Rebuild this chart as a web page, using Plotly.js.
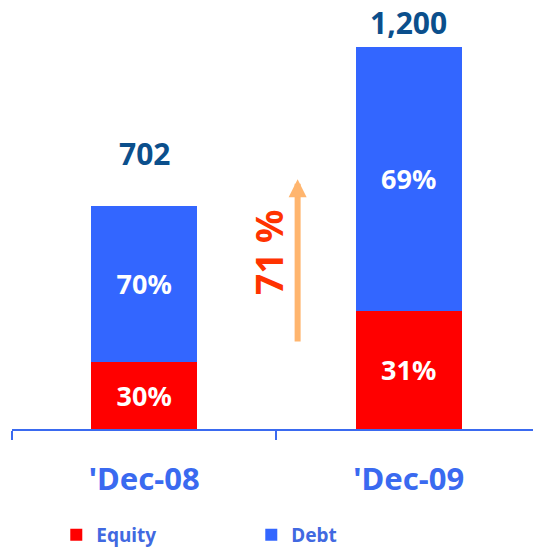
<!DOCTYPE html>
<html>
<head>
<meta charset="utf-8">
<script src="https://cdn.plot.ly/plotly-3.0.1.min.js"></script>
<style>html,body{margin:0;padding:0;background:#fff;}#chart{width:533px;height:548px;}</style>
</head>
<body>
<div id="chart"></div>
<script>
var categories = ["'Dec-08", "'Dec-09"];
var totals = [702, 1200];
var equityPct = [30, 31];
var debtPct = [70, 69];
var growthLabel = "71 %";

var equityVals = totals.map(function(t, i){ return t * equityPct[i] / 100; });
var debtVals = totals.map(function(t, i){ return t * debtPct[i] / 100; });

var FONT = "Noto Sans, Open Sans, DejaVu Sans, sans-serif";
var AXIS_BLUE = "#3a6af0";
var totalShift = [52, 25]; // px gap between bar top and total label centre

var traces = [
  {
    type: "bar", name: "Equity", x: categories, y: equityVals,
    marker: {color: "#ff0000"},
    text: equityPct.map(function(p){ return p + "%"; }),
    textposition: "inside", insidetextanchor: "middle", textangle: 0,
    constraintext: "none",
    insidetextfont: {family: FONT, size: 27, color: "#ffffff", weight: "bold"},
    hoverinfo: "skip"
  },
  {
    type: "bar", name: "Debt", x: categories, y: debtVals,
    marker: {color: "#3366ff"},
    text: debtPct.map(function(p){ return p + "%"; }),
    textposition: "inside", insidetextanchor: "middle", textangle: 0,
    constraintext: "none",
    insidetextfont: {family: FONT, size: 27, color: "#ffffff", weight: "bold"},
    hoverinfo: "skip"
  }
];

var annotations = totals.map(function(t, i){
  return {
    x: categories[i], y: t, xref: "x", yref: "y",
    text: t.toLocaleString("en-US"), showarrow: false,
    yanchor: "middle", yshift: totalShift[i],
    font: {family: FONT, size: 30, color: "#0b4f8c", weight: "bold"}
  };
});

// growth arrow between the bars
annotations.push({
  x: 0.58, y: 785, xref: "x", yref: "y",
  ax: 0.58, ay: 270, axref: "x", ayref: "y",
  text: "", showarrow: true, arrowhead: 2, arrowsize: 0.6, arrowwidth: 6,
  arrowcolor: "#ffb56e"
});
annotations.push({
  x: 0.47, y: 555, xref: "x", yref: "y",
  text: growthLabel, showarrow: false, textangle: -90,
  font: {family: FONT, size: 37, color: "#ff3300", weight: "bold"}
});

var layout = {
  width: 533, height: 548,
  margin: {l: 12, r: 0, t: 0, b: 119, pad: 0},
  paper_bgcolor: "#ffffff", plot_bgcolor: "#ffffff",
  barmode: "stack", bargap: 0.6,
  showlegend: true,
  legend: {
    orientation: "h", x: 0.085, xanchor: "left",
    yref: "container", y: 0.0237, yanchor: "middle",
    entrywidth: 150, traceorder: "normal",
    font: {family: FONT, size: 19, color: "#4169e1", weight: "bold"}
  },
  xaxis: {
    type: "category", range: [-0.5, 1.47],
    tickson: "boundaries", ticks: "outside", ticklen: 9, tickwidth: 2,
    tickcolor: AXIS_BLUE, showline: true, linecolor: AXIS_BLUE, linewidth: 2,
    showgrid: false, zeroline: false, ticklabelstandoff: 22,
    tickfont: {family: FONT, size: 31, color: AXIS_BLUE, weight: "bold"},
    fixedrange: true
  },
  yaxis: {range: [0, 1348], visible: false, showgrid: false, zeroline: false, fixedrange: true},
  annotations: annotations,
  hovermode: false
};

Plotly.newPlot("chart", traces, layout, {displayModeBar: false, staticPlot: true});
</script>
</body>
</html>
